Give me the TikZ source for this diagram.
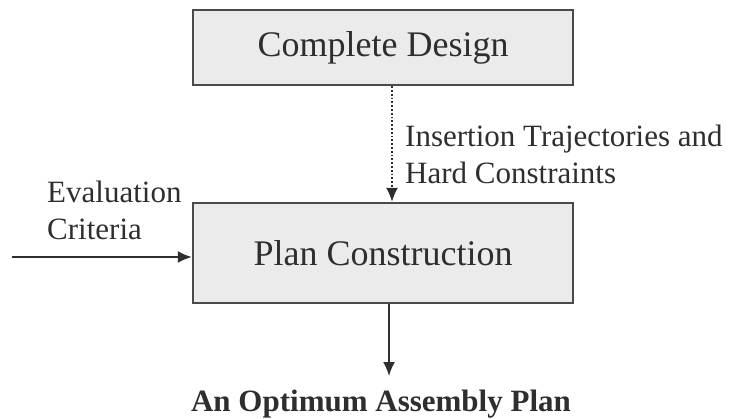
\documentclass[tikz,border=0pt]{standalone}
\usepackage{fontspec}
\setmainfont{Liberation Serif}
\usetikzlibrary{arrows.meta,positioning}

\definecolor{ink}{HTML}{2E2E2E}
\definecolor{boxline}{HTML}{4A4A4A}
\definecolor{boxfill}{HTML}{EBEBEB}

\tikzset{
  stage/.style={draw=boxline, line width=2.4pt, fill=boxfill, text=ink,
    minimum width=380pt, font=\fontsize{36}{40}\selectfont},
  lbl/.style={text=ink, align=left, inner sep=0pt,
    font=\fontsize{31}{37}\selectfont},
  flow/.style={draw=ink, line width=1.8pt, -{Latex[length=14pt,width=12pt]}}
}

\begin{document}
\begin{tikzpicture}[x=1pt,y=-1pt]
    \useasboundingbox (0,0) rectangle (735,419);

    \node[stage, minimum height=75pt] (design) at (383,47.5) {Complete Design};
    \node[stage, minimum height=100pt] (plan) at (383,253) {Plan Construction};

    \node[lbl, anchor=west] (hard) at (405,154) {Insertion Trajectories and\\Hard Constraints};
    \node[lbl, anchor=west] (crit) at (47,210) {Evaluation\\Criteria};
    \node[lbl, anchor=base, font=\fontsize{31}{37}\selectfont\bfseries] (result) at (381,411) {An Optimum Assembly Plan};

    \coordinate (in) at (12,257);
    \coordinate (tip) at (389,376);

    \draw[flow, dotted] ([xshift=9pt]design.south) -- ([xshift=9pt]plan.north);
    \draw[flow] (in) -- (in -| plan.west);
    \draw[flow] (plan.south -| tip) -- (tip);

  \end{tikzpicture}
\end{document}
